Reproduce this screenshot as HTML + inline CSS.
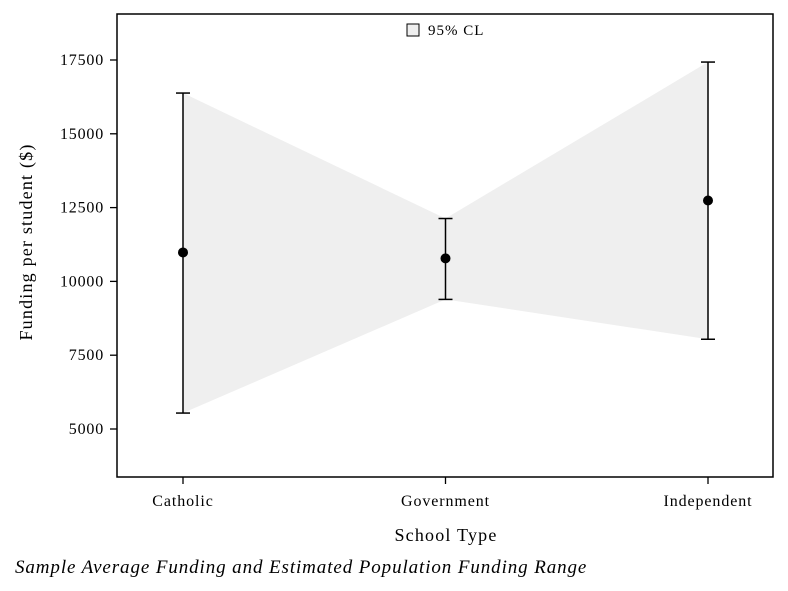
<!DOCTYPE html>
<html><head><meta charset="utf-8">
<style>
body{margin:0;background:#fff;width:788px;height:591px;overflow:hidden;font-family:"Liberation Serif",serif;}
svg{display:block}
</style></head>
<body>
<svg id="chart" width="788" height="591" xmlns="http://www.w3.org/2000/svg" font-family="Liberation Serif, serif"></svg>
<script>
const categories=["Catholic","Government","Independent"];
const means=[10980,10780,12740];
const lowers=[5540,9390,8040];
const uppers=[16380,12130,17430];
const yTicks=[5000,7500,10000,12500,15000,17500];

const NS="http://www.w3.org/2000/svg";
const svg=document.getElementById('chart');
const L=117,R=773,T=14,B=477;
const yMin=3374,yMax=19058;
const xPos=[183,446,708];
function x(i){return xPos[0]+(xPos[2]-xPos[0])*i/(categories.length-1);}
function y(v){return B-(v-yMin)/(yMax-yMin)*(B-T);}
function mk(tag,attrs,name,parent){const e=document.createElementNS(NS,tag);for(const k in attrs)e.setAttribute(k,attrs[k]);


(parent||svg).appendChild(e);return e;}

let up=categories.map((c,i)=>x(i)+','+y(uppers[i])).join(' ');
let lo=categories.map((c,i)=>x(i)+','+y(lowers[i])).reverse().join(' ');
mk('polygon',{points:up+' '+lo,fill:'#efefef',stroke:'none'},'confidence-band');

mk('rect',{x:L,y:T,width:R-L,height:B-T,fill:'none',stroke:'#000','stroke-width':1.5},'plot-frame');

yTicks.forEach(v=>{
  mk('line',{x1:L-7,x2:L,y1:y(v),y2:y(v),stroke:'#000','stroke-width':1.3},'y-tick');
  const t=mk('text',{x:L-13,y:y(v)+5,'text-anchor':'end','font-size':16,'letter-spacing':0.8},'y-tick-label');t.textContent=v;
});
categories.forEach((c,i)=>{
  mk('line',{x1:x(i),x2:x(i),y1:B,y2:B+7,stroke:'#000','stroke-width':1.3},'x-tick');
  const t=mk('text',{x:x(i),y:506,'text-anchor':'middle','font-size':16,'letter-spacing':0.9},'x-tick-label');t.textContent=c;
});
categories.forEach((c,i)=>{
  const g=mk('g',{},'error-bar-'+c.toLowerCase());
  mk('line',{x1:x(i),x2:x(i),y1:y(uppers[i]),y2:y(lowers[i]),stroke:'#000','stroke-width':1.5},'whisker',g);
  mk('line',{x1:x(i)-7,x2:x(i)+7,y1:y(uppers[i]),y2:y(uppers[i]),stroke:'#000','stroke-width':1.5},'upper-cap',g);
  mk('line',{x1:x(i)-7,x2:x(i)+7,y1:y(lowers[i]),y2:y(lowers[i]),stroke:'#000','stroke-width':1.5},'lower-cap',g);
  mk('circle',{cx:x(i),cy:y(means[i]),r:5,fill:'#000'},'mean-point',g);
});
const lg=mk('g',{},'legend');
mk('rect',{x:407,y:24,width:12,height:12,fill:'#efefef',stroke:'#000','stroke-width':1},'legend-swatch',lg);
const lt=mk('text',{x:428,y:35,'font-size':15,'letter-spacing':1},'legend-label',lg);lt.textContent='95% CL';
const xt=mk('text',{x:446,y:541,'text-anchor':'middle','font-size':18,'letter-spacing':1.2},'x-axis-title');xt.textContent='School Type';
const yt=mk('text',{x:32,y:242,'text-anchor':'middle','font-size':18,'letter-spacing':1.2,transform:'rotate(-90 32 242)'},'y-axis-title');yt.textContent='Funding per student ($)';
const cap=mk('text',{x:15,y:573,'font-size':19,'font-style':'italic','letter-spacing':0.9},'chart-caption');cap.textContent='Sample Average Funding and Estimated Population Funding Range';
</script>
</body></html>
